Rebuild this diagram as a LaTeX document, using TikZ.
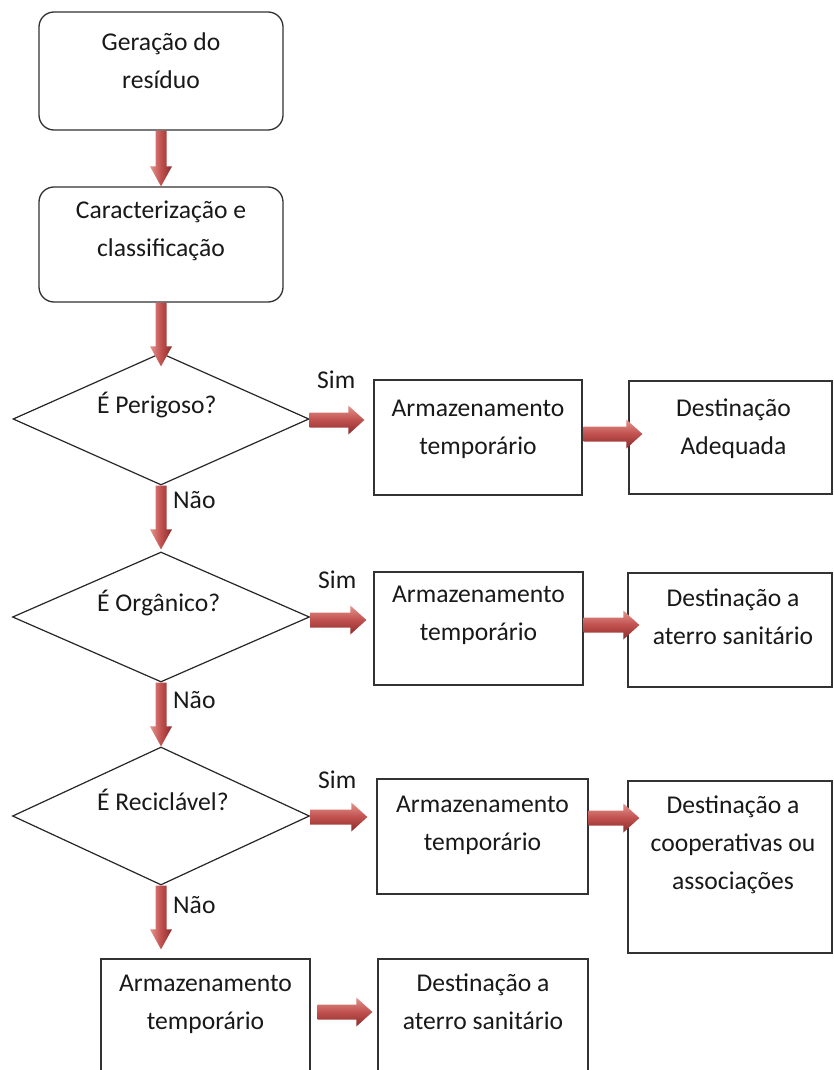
\documentclass[tikz,border=0pt]{standalone}
\usepackage{fontspec}
\setmainfont{Carlito}
\usetikzlibrary{shapes.geometric,calc}
\definecolor{arrowLight}{RGB}{228,148,143}
\definecolor{arrowMid}{RGB}{192,80,77}
\definecolor{arrowDark}{RGB}{138,44,44}
\definecolor{lineGray}{RGB}{50,50,50}
\definecolor{textDark}{RGB}{25,25,25}
\tikzset{
  box/.style={draw=lineGray, line width=1.3pt, rectangle, inner sep=0pt},
  rbox/.style={box, rounded corners=15pt},
  dia/.style={draw=black!85, line width=1.2pt, diamond, inner sep=0pt},
  txt/.style={font=\fontsize{25.6}{38}\selectfont, text=textDark, align=center, inner sep=0pt},
  lbl/.style={font=\fontsize{25.6}{30}\selectfont, text=textDark, inner sep=0pt},
  vfill/.style={left color=arrowLight, right color=arrowDark, middle color=arrowMid},
  hfill/.style={top color=arrowLight, bottom color=arrowDark, middle color=arrowMid},
}
\newcommand\VerArrow[2]{%
  \path[vfill] let \p1=#1, \p2=#2 in
    (\x1-5.5pt,\y1) -- (\x1-5.5pt,\y2+20pt) -- (\x1-11pt,\y2+20pt) -- (\x1,\y2)
    -- (\x1+11pt,\y2+20pt) -- (\x1+5.5pt,\y2+20pt) -- (\x1+5.5pt,\y1) -- cycle;}
\newcommand\HorArrow[2]{%
  \path[hfill] let \p1=#1, \p2=#2 in
    (\x1,\y1+7.5pt) -- (\x2-16pt,\y1+7.5pt) -- (\x2-16pt,\y1+14.5pt) -- (\x2,\y1)
    -- (\x2-16pt,\y1-14.5pt) -- (\x2-16pt,\y1-7.5pt) -- (\x1,\y1-7.5pt) -- cycle;}
\begin{document}
\begin{tikzpicture}[x=1pt,y=-1pt]
\useasboundingbox (0,0) rectangle (833,1070);
\fill[white] (0,0) rectangle (833,1070);
\clip (0,0) rectangle (833,1070);

% left column
\node[rbox, minimum width=244, minimum height=118] (b1) at (161,71) {};
\node[rbox, minimum width=244, minimum height=115] (b2) at (161,244.5) {};
\node[dia, minimum width=296, minimum height=132] (d1) at (161,419) {};
\node[dia, minimum width=297, minimum height=130] (d2) at (161,617) {};
\node[dia, minimum width=297, minimum height=138] (d3) at (161,816) {};

% right boxes
\node[box, minimum width=208, minimum height=115] (a1) at (478,437.5) {};
\node[box, minimum width=203, minimum height=113] (e1) at (730.5,437.5) {};
\node[box, minimum width=209, minimum height=113] (a2) at (478.5,628.5) {};
\node[box, minimum width=204, minimum height=114] (e2) at (730,630) {};
\node[box, minimum width=211, minimum height=115] (a3) at (482.5,836.5) {};
\node[box, minimum width=204, minimum height=172] (e3) at (730,867) {};
\node[box, minimum width=209, minimum height=126] (a4) at (205.5,1022) {};
\node[box, minimum width=210, minimum height=126] (e4) at (483,1022) {};

% texts
\node[txt, anchor=north] (b1t) at ($(b1.north)+(0,12.4)$) {\strut Geração do\\resíduo};
\node[txt, anchor=north] (b2t) at ($(b2.north)+(0,5.5)$) {\strut Caracterização e\\classificação};
\node[txt, anchor=base west] (d1t) at ($(d1.center)+(-64,-6)$) {É Perigoso?};
\node[txt, anchor=base west] (d2t) at ($(d2.center)+(-64,-6)$) {É Orgânico?};
\node[txt, anchor=base west] (d3t) at ($(d3.center)+(-64,-6)$) {É Reciclável?};

\node[txt, anchor=north] (a1t) at ($(a1.north)+(0,10.4)$) {\strut Armazenamento\\temporário};
\node[txt, anchor=north] (e1t) at ($(e1.north)+(3,9.4)$) {\strut Destinação\\Adequada};
\node[txt, anchor=north] (a2t) at ($(a2.north)+(0,4.4)$) {\strut Armazenamento\\temporário};
\node[txt, anchor=north] (e2t) at ($(e2.north)+(3,7.4)$) {\strut Destinação a\\aterro sanitário};
\node[txt, anchor=north] (a3t) at ($(a3.north)+(0,7.4)$) {\strut Armazenamento\\temporário};
\node[txt, anchor=north] (e3t) at ($(e3.north)+(3,6.4)$) {\strut Destinação a\\cooperativas ou\\associações};
\node[txt, anchor=north] (a4t) at ($(a4.north)+(0,6.4)$) {\strut Armazenamento\\temporário};
\node[txt, anchor=north] (e4t) at ($(e4.north)+(0,6.4)$) {\strut Destinação a\\aterro sanitário};

% labels
\node[lbl, anchor=base west] (s1) at (317,388) {Sim};
\node[lbl, anchor=base west] (s2) at (318,588) {Sim};
\node[lbl, anchor=base west] (s3) at (318,788) {Sim};
\node[lbl, anchor=base west] (n1) at (173,508) {Não};
\node[lbl, anchor=base west] (n2) at (173,708) {Não};
\node[lbl, anchor=base west] (n3) at (173,913) {Não};

% vertical arrows
\VerArrow{(b1.south)}{(b2.north)}
\VerArrow{(b2.south)}{($(d1.north)+(0,14)$)}
\VerArrow{(d1.south)}{($(d2.north)+(0,-2)$)}
\VerArrow{(d2.south)}{(d3.north)}
\VerArrow{(d3.south)}{($(a4.north)+(0,-9)$)}

% horizontal arrows
\HorArrow{($(d1.east)+(0,1)$)}{($(a1.west)+(-9,0)$)}
\HorArrow{($(a1.east)+(1,-3.5)$)}{($(e1.west)+(14,0)$)}
\HorArrow{($(d2.east)+(0,3)$)}{($(a2.west)+(-7,0)$)}
\HorArrow{($(a2.east)+(0,-3.5)$)}{($(e2.west)+(12,0)$)}
\HorArrow{($(d3.east)+(0,1)$)}{($(a3.west)+(-9,0)$)}
\HorArrow{($(a3.east)+(0,-18.5)$)}{($(e3.west)+(12,0)$)}
\HorArrow{($(a4.east)+(7,-10)$)}{($(e4.west)+(-5,0)$)}
\end{tikzpicture}
\end{document}
